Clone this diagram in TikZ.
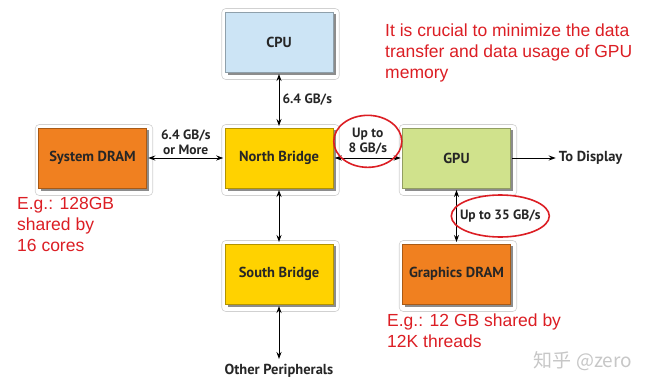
\documentclass[tikz,border=0pt]{standalone}
\usepackage{fontspec}
\setmainfont{Liberation Sans}
\newfontfamily\boxfont{PT Sans}
\newfontfamily\cjkfont{Noto Sans CJK SC}
\usetikzlibrary{arrows.meta,positioning,calc,shadows,backgrounds}
\definecolor{cpublue}{RGB}{204,228,245}
\definecolor{bridgeyellow}{RGB}{255,210,0}
\definecolor{dramorange}{RGB}{240,128,32}
\definecolor{gpugreen}{RGB}{208,226,140}
\definecolor{notered}{RGB}{220,30,36}

\begin{document}
\begin{tikzpicture}[x=1pt, y=-1pt, node distance=55pt and 78pt]
\tikzset{
  block/.style={rectangle, fill=#1, draw=#1!70!black, line width=0.5pt,
    minimum width=108pt, minimum height=60.5pt, align=center, inner sep=2pt,
    font=\boxfont\bfseries\fontsize{14.5}{16}\selectfont, text=black!85,
    drop shadow={shadow xshift=2.5pt, shadow yshift=-2.5pt, fill=black, opacity=0.45}},
  rate/.style={font=\boxfont\bfseries\fontsize{13.5}{15}\selectfont, align=center,
    inner sep=3pt, text=black!85},
  port/.style={rate, font=\boxfont\bfseries\fontsize{14.5}{16}\selectfont},
  link/.style={{Stealth[length=7pt,width=5pt]}-{Stealth[length=7pt,width=5pt]},
    line width=1pt, shorten <=1.5pt, shorten >=1.5pt},
  feed/.style={-{Stealth[length=7pt,width=5pt]}, line width=1pt, shorten <=1pt},
  halo/.style={draw=black!18, line width=0.6pt, rounded corners=4pt},
  ring/.style={draw=notered, line width=1.6pt},
  note/.style={font=\fontsize{17.5}{21}\selectfont, text=notered, align=left, inner sep=0pt},
  watermark/.style={font=\cjkfont\fontsize{19}{21}\selectfont, text=black!22}
}
\useasboundingbox (0,0) rectangle (650,388);

\node[block=cpublue] (cpu) at (279,42) {CPU};
\node[block=bridgeyellow, below=of cpu] (nb) {North Bridge};
\node[block=dramorange, left=of nb] (sysdram) {System DRAM};
\node[block=gpugreen, right=69pt of nb] (gpu) {GPU};
\node[block=bridgeyellow, below=of nb] (sb) {South Bridge};
\node[block=dramorange, below=of gpu] (gdram) {Graphics DRAM};
\node[port, right=45pt of gpu] (display) {To Display};
\node[port, below=56pt of sb] (periph) {Other Peripherals};

\begin{scope}[on background layer]
  \fill[white] (0,0) rectangle (650,388);
  \foreach \b in {cpu,nb,sysdram,gpu,sb,gdram}
    \draw[halo] ($(\b.north west)+(-3,-3)$) rectangle ($(\b.south east)+(6,7)$);
\end{scope}

\draw[link] (cpu) -- node[rate, right] {6.4 GB/s} (nb);
\draw[link] (sysdram) -- node[rate, above] {6.4 GB/s\\or More} (nb);
\draw[link] (nb) -- node[rate, above] (up8) {Up to\\8 GB/s} (gpu);
\draw[feed] (gpu) -- (display);
\draw[link] (gpu) -- node[rate, right] (up35) {Up to 35 GB/s} (gdram);
\draw[link] (nb) -- (sb);
\draw[link] (sb) -- (periph);

\draw[ring] (up8.center) ellipse [x radius=34, y radius=26];
\draw[ring] (up35.center) ellipse [x radius=49, y radius=21];

\node[note, anchor=north west] (tip) at (385,24) {It is crucial to minimize the data\\transfer and data usage of GPU\\memory};
\node[note, anchor=north west] (sysnote) at (17,197) {E.g.: 128GB\\shared by\\16 cores};
\node[note, anchor=north west] (gpunote) at (387,314) {E.g.: 12 GB shared by\\12K threads};
\node[watermark] (wm) at (583,361) {知乎 @zero};
\end{tikzpicture}
\end{document}
